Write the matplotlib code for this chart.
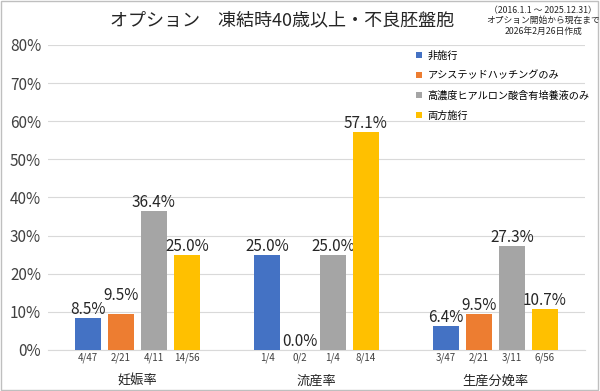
import numpy as np
from matplotlib import pyplot as plt
from matplotlib.patches import Rectangle

plt.rcParams['font.family'] = ['Noto Sans CJK JP', 'DejaVu Sans']

categories = ['妊娠率', '流産率', '生産分娩率']
series_names = ['非施行', 'アシステッドハッチングのみ', '高濃度ヒアルロン酸含有培養液のみ', '両方施行']
colors = ['#4472C4', '#ED7D31', '#A5A5A5', '#FFC000']

# rates in percent, one list per series (order: categories)
none_vals = [8.5, 25.0, 6.4]
ah_vals = [9.5, 0.0, 9.5]
ha_vals = [36.4, 25.0, 27.3]
both_vals = [25.0, 57.1, 10.7]

none_frac = ['4/47', '1/4', '3/47']
ah_frac = ['2/21', '0/2', '2/21']
ha_frac = ['4/11', '1/4', '3/11']
both_frac = ['14/56', '8/14', '6/56']

values = [none_vals, ah_vals, ha_vals, both_vals]
fracs = [none_frac, ah_frac, ha_frac, both_frac]


def main():
    fig = plt.figure(figsize=(6, 3.91), dpi=100)
    ax = fig.add_axes([0.08, 0.105, 0.895, 0.78])

    x = np.arange(len(categories))
    width = 0.145
    step = 0.184

    for i, (vals, fr) in enumerate(zip(values, fracs)):
        pos = x + (i - 1.5) * step
        bars = ax.bar(pos, vals, width, color=colors[i], label=series_names[i], zorder=3)
        for j, (b, v, f) in enumerate(zip(bars, vals, fr)):
            # push a label up when it would collide with the neighbour's label
            dy = 0
            if i > 0 and 0 < v - values[i - 1][j] < 2:
                dy = 7
            ax.annotate(f'{v:.1f}%', (b.get_x() + b.get_width() / 2, v),
                        xytext=(0, dy), textcoords='offset points',
                        ha='center', va='bottom', fontsize=11, color='#262626')
            ax.annotate(f, (b.get_x() + b.get_width() / 2, 0),
                        xytext=(0, -2), textcoords='offset points',
                        ha='center', va='top', fontsize=7, color='#404040')

    ax.set_xlim(-0.5, 2.5)
    ax.set_ylim(0, 80)
    ax.set_yticks(np.arange(0, 81, 10))
    ax.set_yticklabels([f'{t}%' for t in range(0, 81, 10)], fontsize=11, color='#404040')
    ax.set_xticks(x)
    ax.set_xticklabels(categories, fontsize=9.5, color='#262626')
    ax.tick_params(axis='x', length=0, pad=18)
    ax.tick_params(axis='y', length=0, pad=5)
    ax.grid(axis='y', color='#D9D9D9', linewidth=0.8, zorder=0)
    for s in ['top', 'right', 'left']:
        ax.spines[s].set_visible(False)
    ax.spines['bottom'].set_color('#D9D9D9')

    ax.legend(loc='upper left', bbox_to_anchor=(0.678, 0.995), frameon=False, fontsize=7.3,
              handlelength=0.6, handleheight=0.6, handletextpad=0.5, labelspacing=0.98,
              borderaxespad=0)

    fig.text(0.47, 0.948, 'オプション　凍結時40歳以上・不良胚盤胞', ha='center', va='center',
             fontsize=13, color='#262626')
    fig.text(0.905, 0.985, '（2016.1.1 ～ 2025.12.31）\nオプション開始から現在まで\n2026年2月26日作成',
             ha='center', va='top', fontsize=6.3, color='#262626', linespacing=1.2)

    fig.patches.append(Rectangle((0.002, 0.003), 0.995, 0.994, transform=fig.transFigure,
                                 fill=False, edgecolor='#BFBFBF', linewidth=1))

    fig.savefig('out.png', dpi=100)


if __name__ == '__main__':
    main()
